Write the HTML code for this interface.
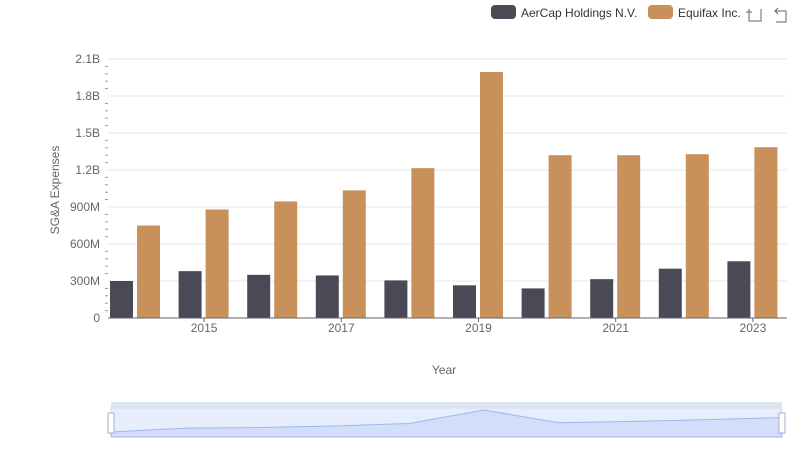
<!DOCTYPE html>
<html><head><meta charset="utf-8"><style>
body{margin:0;background:#fff;font-family:"Liberation Sans",sans-serif;}
svg text{font-family:"Liberation Sans",sans-serif;}
</style></head><body>
<svg id="c" width="800" height="461" xmlns="http://www.w3.org/2000/svg">
<g>
<g><rect x="491" y="5" width="25" height="14" rx="4" fill="#4a4a56"/><text x="521" y="17" font-size="12" fill="#333">AerCap Holdings N.V.</text></g>
<g><rect x="648" y="5" width="25" height="14" rx="4" fill="#c8915c"/><text x="678" y="17" font-size="12" fill="#333">Equifax Inc.</text></g>
</g>
<g stroke="#666" fill="none"><path d="M749 9v12h12V9M746 12h6M749 9"/></g>
<g stroke="#666" fill="none"><path d="M778 8l-3 3 3 3M775 11h11v11h-10"/></g>
<g id="grid"></g>
<g id="bars"></g>
<g id="axes"></g>
<text x="59" y="190" font-size="12" fill="#666" transform="rotate(-90 59 190)" text-anchor="middle">SG&amp;A Expenses</text>
<text x="444" y="374" font-size="12" fill="#666" text-anchor="middle">Year</text>
<g>
<rect x="111" y="402" width="671" height="6" fill="#dde3f0"/>
<rect x="111" y="408" width="671" height="29" fill="#e6eefc" stroke="#d5dceb"/>
<path id="mini" fill="#d2defa" stroke="#9fb6ee"/>
<rect x="108" y="413" width="6" height="20" fill="#fff" stroke="#a5b3cc"/>
<rect x="779" y="413" width="6" height="20" fill="#fff" stroke="#a5b3cc"/>
</g>
</svg>
<script>
const years=["2014","2015","2016","2017","2018","2019","2020","2021","2022","2023"];
const aercap=[300,380,350,345,305,265,240,315,400,460];
const equifax=[750,880,945,1035,1215,1995,1320,1320,1328,1385];
const yTicks=[0,300,600,900,1200,1500,1800,2100];
const yTickLabels=["0","300M","600M","900M","1.2B","1.5B","1.8B","2.1B"];
const ns="http://www.w3.org/2000/svg";
const y0=318,yTop=59,yMax=2100;
const y=v=>y0-(v/yMax)*(y0-yTop);
const x=i=>135.5+i*68.6;
function mk(t,a,p){const e=document.createElementNS(ns,t);for(const k in a)e.setAttribute(k,a[k]);p.appendChild(e);return e;}
const grid=document.getElementById('grid'),bars=document.getElementById('bars'),axes=document.getElementById('axes');
yTicks.forEach((v,i)=>{
 if(v>0){const l=mk('line',{x1:108,x2:787,y1:y(v),y2:y(v),stroke:'#e3e7f0'},grid);
 
 }
 const t=mk('text',{x:100,y:y(v)+4,'font-size':12,fill:'#666','text-anchor':'end'},axes);t.textContent=yTickLabels[i];
 
 
});
for(let v=60;v<2100;v+=60){if(v%300)mk('line',{x1:105,x2:108,y1:y(v),y2:y(v),stroke:'#999'},axes);}
mk('line',{x1:108,x2:787,y1:y0,y2:y0,stroke:'#666'},axes);
years.forEach((yr,i)=>{
 const a=mk('rect',{x:x(i)-25.5,y:y(aercap[i]),width:23,height:y0-y(aercap[i]),fill:'#4a4a56'},bars);
 
 
 const b=mk('rect',{x:x(i)+1.5,y:y(equifax[i]),width:23,height:y0-y(equifax[i]),fill:'#c8915c'},bars);
 
 
 if(i%2==1){mk('line',{x1:x(i),x2:x(i),y1:y0,y2:y0+4,stroke:'#666'},axes);
 const t=mk('text',{x:x(i),y:332,'font-size':12,fill:'#666','text-anchor':'middle'},axes);t.textContent=yr;
 
 }
});
// mini chart in slider from aercap+equifax totals
const tot=years.map((_,i)=>aercap[i]+equifax[i]);
const mn=Math.min(...tot),mx=Math.max(...tot);
let d='M111 437';
tot.forEach((v,i)=>{const px=111+i*(671/(years.length-1));const py=432-(v-mn)/(mx-mn)*22;d+=` L${px} ${py}`;});
d+=' L782 437Z';
document.getElementById('mini').setAttribute('d',d);
</script>
</body></html>
